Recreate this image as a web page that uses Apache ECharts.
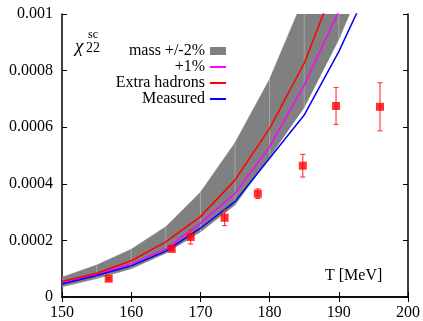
<!DOCTYPE html>
<html>
<head>
<meta charset="utf-8">
<script src="https://cdn.jsdelivr.net/npm/echarts@6/dist/echarts.min.js"></script>
<style>html,body{margin:0;padding:0;background:#fff}#c{width:423px;height:321px}</style>
</head>
<body>
<div id="c"></div>
<script>
// Temperature nodes (MeV)
var T = [150, 155, 160, 165, 170, 175, 180, 185, 190, 195];
// mass +/-2% band
var bandLower = [0.000036, 0.000065, 0.000100, 0.000155, 0.000230, 0.000325, 0.000495, 0.000670, 0.000910, 0.001200];
var bandUpper = [0.000070, 0.000113, 0.000169, 0.000248, 0.000370, 0.000545, 0.000770, 0.001060, 0.001400, 0.001800];
// curves
var plus1 = [0.000050, 0.000080, 0.000117, 0.000170, 0.000260, 0.000366, 0.000531, 0.000749, 0.001010, 0.001300];
var extraHadrons = [0.000055, 0.000084, 0.000128, 0.000195, 0.000284, 0.000413, 0.000596, 0.000826, 0.001140, 0.001500];
var measured = [0.000046, 0.000076, 0.000110, 0.000162, 0.000243, 0.000337, 0.000490, 0.000643, 0.000867, 0.001130];
// lattice data points
var ptT = [156.75, 165.85, 168.6, 173.5, 178.3, 184.8, 189.6, 195.95];
var ptV = [0.0000647, 0.000170, 0.000212, 0.000280, 0.000365, 0.000464, 0.000675, 0.000672];
var ptErr = [0.000004, 0.000006, 0.000025, 0.000028, 0.000017, 0.000040, 0.000065, 0.000085];
// tick labels
var xTickLabels = ['150', '160', '170', '180', '190', '200'];
var yTickLabels = ['0', '0.0002', '0.0004', '0.0006', '0.0008', '0.001'];

function pairs(xs, ys) { return xs.map(function (x, i) { return [x, ys[i]]; }); }

var serif = 'Liberation Serif';
var chart = echarts.init(document.getElementById('c'), null, { renderer: 'canvas' });
var axisCommon = {
  axisLine: { show: true, lineStyle: { color: '#000', width: 1.5 } },
  axisTick: { show: true, inside: true, length: 5, lineStyle: { color: '#000', width: 1 } },
  splitLine: { show: false }
};
var noSym = { opacity: 0 };
chart.setOption({
  animation: false,
  backgroundColor: '#fff',
  grid: { left: 62, right: 15, top: 14, bottom: 24, containLabel: false },
  xAxis: [
    Object.assign({ type: 'value', min: 150, max: 200, interval: 10, position: 'bottom',
      axisLabel: { fontFamily: serif, fontSize: 16, color: '#000', margin: 8,
        formatter: function (v, i) { return xTickLabels[i]; } } }, axisCommon),
    Object.assign({ type: 'value', min: 150, max: 200, interval: 10, position: 'top',
      axisLabel: { show: false } }, axisCommon)
  ],
  yAxis: [
    Object.assign({ type: 'value', min: 0, max: 0.001, interval: 0.0002, position: 'left',
      axisLabel: { fontFamily: serif, fontSize: 16, color: '#000', margin: 9,
        formatter: function (v, i) { return yTickLabels[i]; } } }, axisCommon),
    Object.assign({ type: 'value', min: 0, max: 0.001, interval: 0.0002, position: 'right',
      axisLabel: { show: false } }, axisCommon)
  ],
  legend: {
    show: true,
    orient: 'vertical',
    align: 'right',
    right: 196,
    top: 43,
    itemWidth: 16,
    itemHeight: 8,
    itemGap: 0,
    padding: 0,
    textStyle: { fontFamily: serif, fontSize: 16, color: '#000', lineHeight: 15.7, padding: [0, 0, 0, 0] },
    data: [
      { name: 'mass +/-2%', icon: 'rect', itemStyle: { color: '#808080' } },
      { name: '+1%', itemStyle: noSym },
      { name: 'Extra hadrons', itemStyle: noSym },
      { name: 'Measured', itemStyle: noSym }
    ]
  },
  series: [
    { name: 'mass +/-2%', type: 'custom', z: 1, silent: true, clip: true,
      itemStyle: { color: '#808080' },
      data: T.map(function (t, i) { return [t, bandLower[i], bandUpper[i]]; }),
      renderItem: function (params, api) {
        if (params.dataIndex !== 0) return null;
        var upper = T.map(function (t, i) { return api.coord([t, bandUpper[i]]); });
        var lowerF = T.map(function (t, i) { return api.coord([t, bandLower[i]]); });
        var children = [{ type: 'polygon', shape: { points: upper.concat(lowerF.slice().reverse()) },
          style: { fill: '#808080', stroke: '#808080', lineWidth: 0.5 } }];
        for (var i = 1; i < T.length - 1; i++) {
          children.push({ type: 'line', shape: { x1: upper[i][0], y1: upper[i][1], x2: lowerF[i][0], y2: lowerF[i][1] },
            style: { stroke: '#a6a6a6', lineWidth: 1 } });
        }
        return { type: 'group', children: children };
      } },
    { name: '+1%', type: 'line', data: pairs(T, plus1), symbol: 'none',
      lineStyle: { color: '#ff00ff', width: 1.5 }, itemStyle: { color: '#ff00ff' }, z: 3 },
    { name: 'Extra hadrons', type: 'line', data: pairs(T, extraHadrons), symbol: 'none',
      lineStyle: { color: '#ff0000', width: 1.5 }, itemStyle: { color: '#ff0000' }, z: 3 },
    { name: 'Measured', type: 'line', data: pairs(T, measured), symbol: 'none',
      lineStyle: { color: '#0000ff', width: 1.5 }, itemStyle: { color: '#0000ff' }, z: 3 },
    { name: 'errors', type: 'custom', z: 4, silent: true,
      data: ptT.map(function (t, i) { return [t, ptV[i] - ptErr[i], ptV[i] + ptErr[i]]; }),
      renderItem: function (params, api) {
        var lo = api.coord([api.value(0), api.value(1)]);
        var hi = api.coord([api.value(0), api.value(2)]);
        var w = 2.5;
        var st = { stroke: '#ff2020', lineWidth: 1 };
        return { type: 'group', children: [
          { type: 'line', shape: { x1: lo[0], y1: lo[1], x2: hi[0], y2: hi[1] }, style: st },
          { type: 'line', shape: { x1: lo[0] - w, y1: lo[1], x2: lo[0] + w, y2: lo[1] }, style: st },
          { type: 'line', shape: { x1: hi[0] - w, y1: hi[1], x2: hi[0] + w, y2: hi[1] }, style: st }
        ] };
      } },
    { name: 'points', type: 'scatter', z: 5, symbol: 'rect', symbolSize: 8,
      data: pairs(ptT, ptV), itemStyle: { color: '#ff0000' } }
  ],
  graphic: [
    { type: 'text', left: 75, top: 37, style: { text: 'χ', font: 'italic 19px "Liberation Serif"', fill: '#000' } },
    { type: 'text', left: 86, top: 41, style: { text: '22', font: '14px "Liberation Serif"', fill: '#000' } },
    { type: 'text', left: 88, top: 29, style: { text: 'sc', font: '12px "Liberation Serif"', fill: '#000' } },
    { type: 'text', left: 325, top: 268, style: { text: 'T [MeV]', font: '16px "Liberation Serif"', fill: '#000' } }
  ]
});
</script>
</body>
</html>
